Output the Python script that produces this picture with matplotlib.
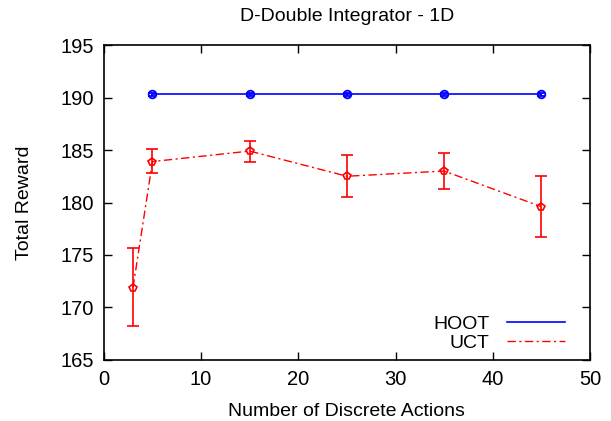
import matplotlib
matplotlib.use('Agg')
import matplotlib.pyplot as plt
from matplotlib.lines import Line2D

plt.rcParams['font.family'] = ['Liberation Sans', 'DejaVu Sans']

# Datos
acciones_hoot = [5, 15, 25, 35, 45]
recompensa_hoot = [190.3, 190.3, 190.3, 190.3, 190.3]
error_hoot = [0.15, 0.15, 0.15, 0.15, 0.15]

acciones_uct = [3, 5, 15, 25, 35, 45]
recompensa_uct = [171.9, 183.9, 184.9, 182.5, 183.0, 179.6]
error_bajo_uct = [3.7, 1.1, 1.0, 2.0, 1.7, 2.9]
error_alto_uct = [3.8, 1.2, 1.0, 2.0, 1.7, 2.9]

fig = plt.figure(figsize=(6.11, 4.21), dpi=100)
ax = fig.add_axes([0.170, 0.145, 0.7956, 0.748])

ax.errorbar(acciones_hoot, recompensa_hoot, yerr=error_hoot, color='#0000ff',
            lw=1.2, marker='o', ms=5.5, mfc='none', mew=1.3, capsize=3, elinewidth=1.2)
ax.errorbar(acciones_uct, recompensa_uct, yerr=[error_bajo_uct, error_alto_uct],
            color='#ff0000', lw=1.0, ls=(0, (6, 2.5, 1.5, 2.5)), marker='p', ms=6,
            mfc='none', mew=1.2, capsize=4, elinewidth=1.2)

ax.set_xlim(0, 50)
ax.set_ylim(165, 195)
ax.set_xticks(range(0, 51, 10))
ax.set_yticks(range(165, 196, 5))
ax.tick_params(direction='in', top=True, right=True, labelsize=14.5, length=6, width=1, pad=7)
for s in ax.spines.values():
    s.set_linewidth(1.2)

ax.set_title('D-Double Integrator - 1D', fontsize=14, pad=17)
ax.set_xlabel('Number of Discrete Actions', fontsize=14, labelpad=10)
ax.set_ylabel('Total Reward', fontsize=14, labelpad=20)

manejadores = [Line2D([], [], color='#0000ff', lw=1.2),
               Line2D([], [], color='#ff0000', lw=1.0, ls=(0, (6, 2.5, 1.5, 2.5)))]
ax.legend(manejadores, ['HOOT', 'UCT'], loc='lower right', frameon=False,
          markerfirst=False, fontsize=14, handlelength=3.0, labelspacing=0.1,
          borderaxespad=0.0, bbox_to_anchor=(0.965, 0.0), handletextpad=0.9)

plt.savefig('out.png', dpi=100)
